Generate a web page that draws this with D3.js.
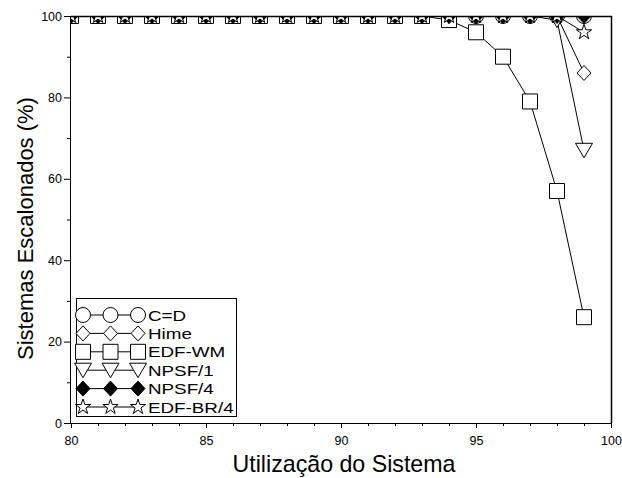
<!DOCTYPE html>
<html>
<head>
<meta charset="utf-8">
<script src="https://cdn.jsdelivr.net/npm/d3@7"></script>
<style>
  html, body { margin: 0; padding: 0; background: #fff; }
  svg { display: block; font-family: "Liberation Sans", Arial, sans-serif; }
</style>
</head>
<body>
<svg id="chart" width="622" height="478"></svg>
<script>
// Utilização do sistema (%)
const utilizacao = [80, 81, 82, 83, 84, 85, 86, 87, 88, 89, 90, 91, 92, 93, 94, 95, 96, 97, 98, 99];

// Percentual de sistemas escalonáveis por algoritmo
const cd      = [100, 100, 100, 100, 100, 100, 100, 100, 100, 100, 100, 100, 100, 100, 100, 100, 100, 100, 100, 100];
const hime    = [100, 100, 100, 100, 100, 100, 100, 100, 100, 100, 100, 100, 100, 100, 100, 100, 100, 100, 100, 86];
const edfWm   = [100, 100, 100, 100, 100, 100, 100, 100, 100, 100, 100, 100, 100, 100, 99, 96, 90, 79, 57, 26];
const npsf1   = [100, 100, 100, 100, 100, 100, 100, 100, 100, 100, 100, 100, 100, 100, 100, 100, 100, 100, 99, 67];
const npsf4   = [100, 100, 100, 100, 100, 100, 100, 100, 100, 100, 100, 100, 100, 100, 100, 100, 100, 100, 100, 100];
const edfBr4  = [100, 100, 100, 100, 100, 100, 100, 100, 100, 100, 100, 100, 100, 100, 100, 100, 100, 100, 100, 96];

const seriesNames = ["C=D", "Hime", "EDF-WM", "NPSF/1", "NPSF/4", "EDF-BR/4"];
const seriesValues = [cd, hime, edfWm, npsf1, npsf4, edfBr4];

const xTicks = [80, 85, 90, 95, 100];
const yTicks = [0, 20, 40, 60, 80, 100];

const svg = d3.select("#chart");
const plotLeft = 71, plotRight = 611, plotTop = 16, plotBottom = 423;

const x = d3.scaleLinear().domain([80, 100]).range([plotLeft, plotRight]);
const y = d3.scaleLinear().domain([0, 100]).range([plotBottom, plotTop]);

// Marker shapes (paths centred on the origin)
const markerPaths = {
  "C=D": d3.symbol(d3.symbolCircle, Math.PI * 7.5 * 7.5)(),
  "Hime": "M0,-7.5L7,0L0,7.5L-7,0Z",
  "EDF-WM": "M-7.5,-7.5H7.5V7.5H-7.5Z",
  "NPSF/1": "M-8.5,-7L8.5,-7L0,7.5Z",
  "NPSF/4": "M0,-7.5L7,0L0,7.5L-7,0Z",
  "EDF-BR/4": d3.symbol(d3.symbolStar, 72)()
};
const markerFill = { "NPSF/4": "#000" };

svg.append("defs").append("clipPath").attr("id", "plotClip")
  .append("rect").attr("x", plotLeft).attr("y", plotTop)
  .attr("width", plotRight - plotLeft).attr("height", plotBottom - plotTop);

const plot = svg.append("g").attr("clip-path", "url(#plotClip)");

const line = d3.line().x((d, i) => x(utilizacao[i])).y(d => y(d));

seriesNames.forEach((name, s) => {
  const vals = seriesValues[s];
  const g = plot.append("g");
  g.append("path").datum(vals)
    .attr("d", line).attr("fill", "none")
    .attr("stroke", "#000").attr("stroke-width", 1);
  g.selectAll("path.mk").data(vals).join("path")
    .attr("class", "mk")
    .attr("d", markerPaths[name])
    .attr("transform", (d, i) => `translate(${x(utilizacao[i])},${y(d)})`)
    .attr("fill", markerFill[name] || "#fff")
    .attr("stroke", "#000").attr("stroke-width", 1);
});

// Frame (top and right)
svg.append("path")
  .attr("d", `M${plotLeft},${plotTop + 0.5}H${plotRight + 0.5}V${plotBottom}`)
  .attr("fill", "none").attr("stroke", "#000").attr("stroke-width", 1.5);

// Axes
const xAxis = svg.append("g").attr("transform", `translate(0,${plotBottom})`)
  .call(d3.axisBottom(x).tickValues(d3.range(80, 101, 1)).tickSize(3).tickFormat(""));
xAxis.selectAll(".tick line").filter(d => xTicks.includes(d)).attr("y2", 5);
xAxis.select(".domain").attr("d", `M${plotLeft},0.5H${plotRight}`);
svg.append("g").attr("transform", `translate(0,${plotBottom})`)
  .call(d3.axisBottom(x).tickValues(xTicks).tickSize(0).tickPadding(13))
  .call(g => g.select(".domain").remove())
  .selectAll("text").attr("font-size", 12.5).attr("font-family", "Liberation Sans, Arial");

const yAxis = svg.append("g").attr("transform", `translate(${plotLeft},0)`)
  .call(d3.axisLeft(y).tickValues(d3.range(0, 101, 10)).tickSize(4).tickFormat(""));
yAxis.selectAll(".tick line").filter(d => yTicks.includes(d)).attr("x2", -7);
yAxis.select(".domain").attr("d", `M-0.5,${plotTop}V${plotBottom}`);
svg.append("g").attr("transform", `translate(${plotLeft},0)`)
  .call(d3.axisLeft(y).tickValues(yTicks).tickSize(0).tickPadding(9))
  .call(g => g.select(".domain").remove())
  .selectAll("text").attr("font-size", 12.5).attr("font-family", "Liberation Sans, Arial");

// Axis titles
svg.append("text").attr("x", (plotLeft + plotRight) / 2 + 3).attr("y", 472)
  .attr("text-anchor", "middle").attr("font-size", 23.2).attr("fill", "#000")
  .text("Utilização do Sistema");
svg.append("text")
  .attr("transform", `translate(33,${(plotTop + plotBottom) / 2 + 9}) rotate(-90)`)
  .attr("text-anchor", "middle").attr("font-size", 22).attr("fill", "#000")
  .text("Sistemas Escalonados (%)");

// Legend (labels are drawn slightly widened)
const legend = svg.append("g");
legend.append("rect").attr("x", 76.5).attr("y", 298.5).attr("width", 160).attr("height", 118)
  .attr("fill", "#fff").attr("stroke", "#000").attr("stroke-width", 1);
const lx = [83, 110.5, 138];
seriesNames.forEach((name, i) => {
  const ry = 315 + i * 18.4;
  const row = legend.append("g");
  row.append("line").attr("x1", lx[0]).attr("x2", lx[2]).attr("y1", ry).attr("y2", ry)
    .attr("stroke", "#000").attr("stroke-width", 1);
  row.selectAll("path").data(lx).join("path")
    .attr("d", markerPaths[name])
    .attr("transform", d => `translate(${d},${ry})`)
    .attr("fill", markerFill[name] || "#fff")
    .attr("stroke", "#000").attr("stroke-width", 1);
  row.append("text")
    .attr("transform", `translate(148,${ry + 5.5}) scale(1.23,1)`)
    .attr("font-size", 15.3).attr("fill", "#000").text(name);
});
</script>
</body>
</html>
